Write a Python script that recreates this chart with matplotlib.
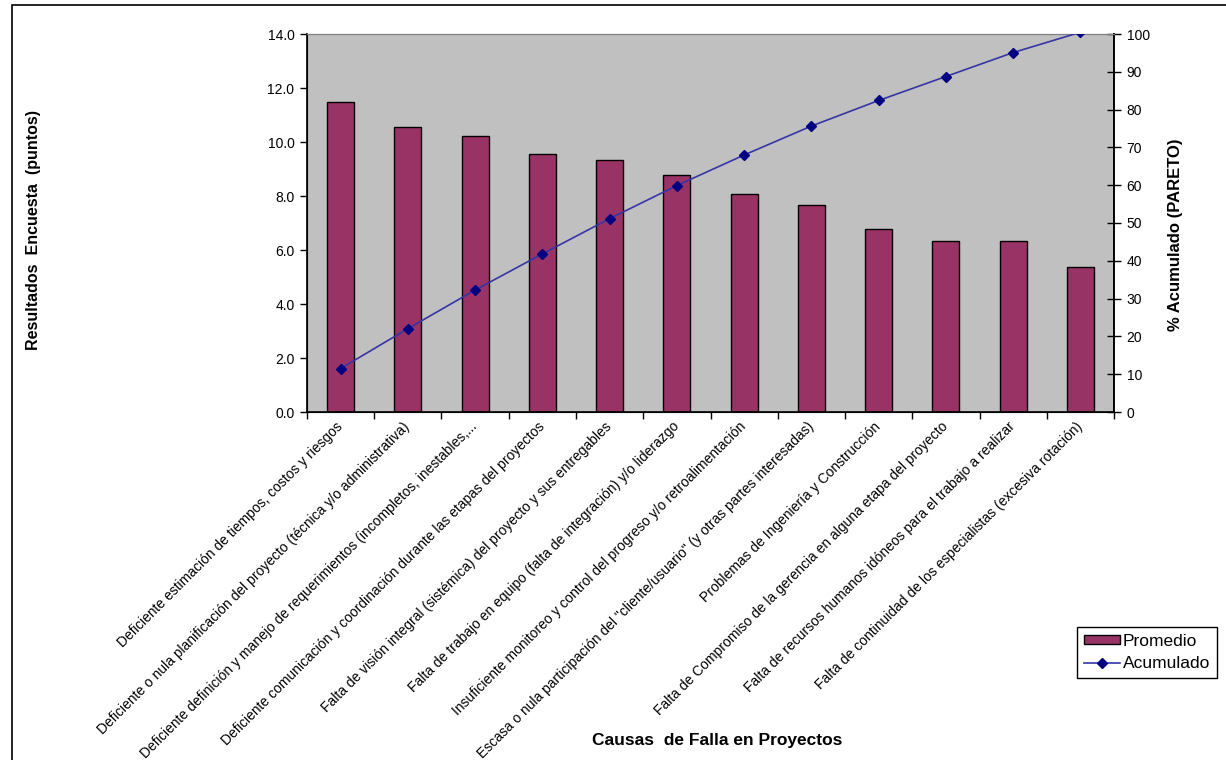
import numpy as np
import matplotlib
matplotlib.use("Agg")
import matplotlib.pyplot as plt
from matplotlib.patches import Patch, Rectangle
from matplotlib.lines import Line2D

plt.rcParams['font.family'] = ['Liberation Sans', 'DejaVu Sans']

categorias = [
    "Deficiente estimación de tiempos, costos y riesgos",
    "Deficiente o nula planificación del proyecto (técnica y/o administrativa)",
    "Deficiente definición y manejo de requerimientos (incompletos, inestables,...",
    "Deficiente comunicación y coordinación durante las etapas del proyectos",
    "Falta de visión integral (sistémica) del proyecto y sus entregables",
    "Falta de trabajo en equipo (falta de integración) y/o liderazgo",
    "Insuficiente monitoreo y control del progreso y/o retroalimentación",
    "Escasa o nula participación del \"cliente/usuario\" (y otras partes interesadas)",
    "Problemas de Ingeniería y Construcción",
    "Falta de Compromiso de la gerencia en alguna etapa del proyecto",
    "Falta de recursos humanos idóneos para el trabajo a realizar",
    "Falta de continuidad de los especialistas (excesiva rotación)",
]
promedio = [11.5, 10.55, 10.22, 9.56, 9.32, 8.76, 8.08, 7.66, 6.76, 6.34, 6.34, 5.37]
acumulado = [11.5, 22.05, 32.27, 41.83, 51.15, 59.91, 67.99, 75.65, 82.41, 88.75, 95.09, 100.46]
y_izq_ticks = [0, 2, 4, 6, 8, 10, 12, 14]
y_der_ticks = [0, 10, 20, 30, 40, 50, 60, 70, 80, 90, 100]

W, H = 1226, 760
fig = plt.figure(figsize=(W / 100, H / 100), dpi=100)
fig.patch.set_facecolor('white')

L, R, T, B = 307, 1114, 34, 412
ax = fig.add_axes([L / W, 1 - B / H, (R - L) / W, (B - T) / H])
ax.set_facecolor('#C0C0C0')

x = np.arange(len(categorias))
ax.bar(x, promedio, width=0.4, color='#993366', edgecolor='black', linewidth=1.0, zorder=2)
ax.set_xlim(-0.5, len(categorias) - 0.5)
ax.set_ylim(0, 14)
ax.set_yticks(y_izq_ticks)
ax.set_yticklabels([f"{v:.1f}" for v in y_izq_ticks], fontsize=10)
ax.tick_params(axis='y', direction='out', length=5, width=1, pad=4)

ax.set_xticks(np.arange(-0.5, len(categorias), 1))
ax.set_xticklabels([])
ax.tick_params(axis='x', which='major', direction='out', length=5, width=1)
ax.set_xticks(x, minor=True)
ax.set_xticklabels(categorias, minor=True, rotation=45, ha='right', va='center',
                   rotation_mode='anchor', fontsize=10)
ax.tick_params(axis='x', which='minor', length=0, pad=9)

for s in ['left', 'bottom', 'right']:
    ax.spines[s].set_color('black')
    ax.spines[s].set_linewidth(1.2)
ax.spines['top'].set_color('#808080')

ax.set_ylabel("Resultados  Encuesta  (puntos)", fontsize=11.5, fontweight='bold')
ax.yaxis.set_label_coords((41 - L) / (R - L), (B - 230) / (B - T), transform=ax.transAxes)
ax.set_xlabel("Causas  de Falla en Proyectos", fontsize=12.5, fontweight='bold')
ax.xaxis.set_label_coords((717 - L) / (R - L), (B - 733) / (B - T), transform=ax.transAxes)

ax2 = ax.twinx()
ax2.plot(x, acumulado, color='#3535A5', linewidth=1.2, marker='D', markersize=5,
         markerfacecolor='#000080', markeredgecolor='#000080', zorder=3)
ax2.set_ylim(0, 100)
ax2.set_yticks(y_der_ticks)
ax2.set_yticklabels([str(v) for v in y_der_ticks], fontsize=10)
ax2.tick_params(axis='y', direction='inout', length=10, width=1, pad=4)
ax2.spines['right'].set_linewidth(1.2)
ax2.spines['top'].set_color('#808080')
ax2.set_ylabel("% Acumulado (PARETO)", fontsize=12, fontweight='bold')
ax2.yaxis.set_label_coords((1168 - L) / (R - L), (B - 235) / (B - T), transform=ax2.transAxes)

handles = [Patch(facecolor='#993366', edgecolor='black', linewidth=1.0),
           Line2D([0], [0], color='#3535A5', linewidth=1.2, marker='D', markersize=5,
                  markerfacecolor='#000080', markeredgecolor='#000080')]
leg = fig.legend(handles, ["Promedio", "Acumulado"], loc='upper left',
                 bbox_to_anchor=(1077 / W, 1 - 627 / H), fontsize=12.5,
                 frameon=True, fancybox=False, edgecolor='black', framealpha=1,
                 handlelength=2.1, handleheight=0.4, handletextpad=0.15,
                 labelspacing=0.4, borderpad=0.4, borderaxespad=0)
leg.get_frame().set_linewidth(1.0)

fig.add_artist(Rectangle((12 / W, -0.1), 1.2, 1 - 5 / H + 0.1, transform=fig.transFigure,
                         fill=False, edgecolor='black', linewidth=1.2))

fig.savefig("out.png", dpi=100)
